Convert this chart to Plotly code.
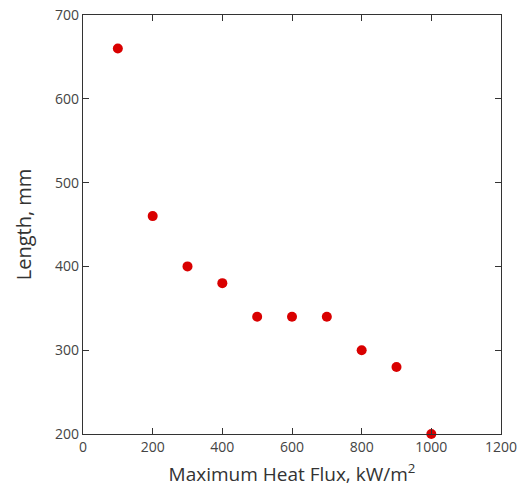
import plotly.graph_objects as go

heat_flux = [100, 200, 300, 400, 500, 600, 700, 800, 900, 1000]
length_mm = [660, 460, 400, 380, 340, 340, 340, 300, 280, 200]

fig = go.Figure()
fig.add_trace(go.Scatter(
    x=heat_flux, y=length_mm, mode="markers",
    marker=dict(color="#d90000", size=10, line=dict(width=0)),
    cliponaxis=False, showlegend=False,
))

axis_common = dict(
    showgrid=False, zeroline=False, showline=True, linecolor="#333333", linewidth=1.3,
    mirror="ticks", ticks="inside", ticklen=6, tickwidth=1.2, tickcolor="#333333",
    tickfont=dict(family="Open Sans, sans-serif", size=14, color="#444444"),
    automargin=False,
)
fig.update_xaxes(range=[0, 1200], dtick=200, tick0=0,
                 title=dict(text="Maximum Heat Flux, kW/m<sup>2</sup>",
                            font=dict(family="Open Sans, sans-serif", size=19, color="#333333"),
                            standoff=12),
                 **axis_common)
fig.update_yaxes(range=[200, 700], dtick=100, tick0=200,
                 title=dict(text="Length, mm",
                            font=dict(family="Open Sans, sans-serif", size=20, color="#333333"),
                            standoff=18),
                 **axis_common)
fig.update_layout(
    width=527, height=488,
    margin=dict(l=83, r=26, t=15, b=54),
    paper_bgcolor="white", plot_bgcolor="white",
)
fig.write_html("out.html")
